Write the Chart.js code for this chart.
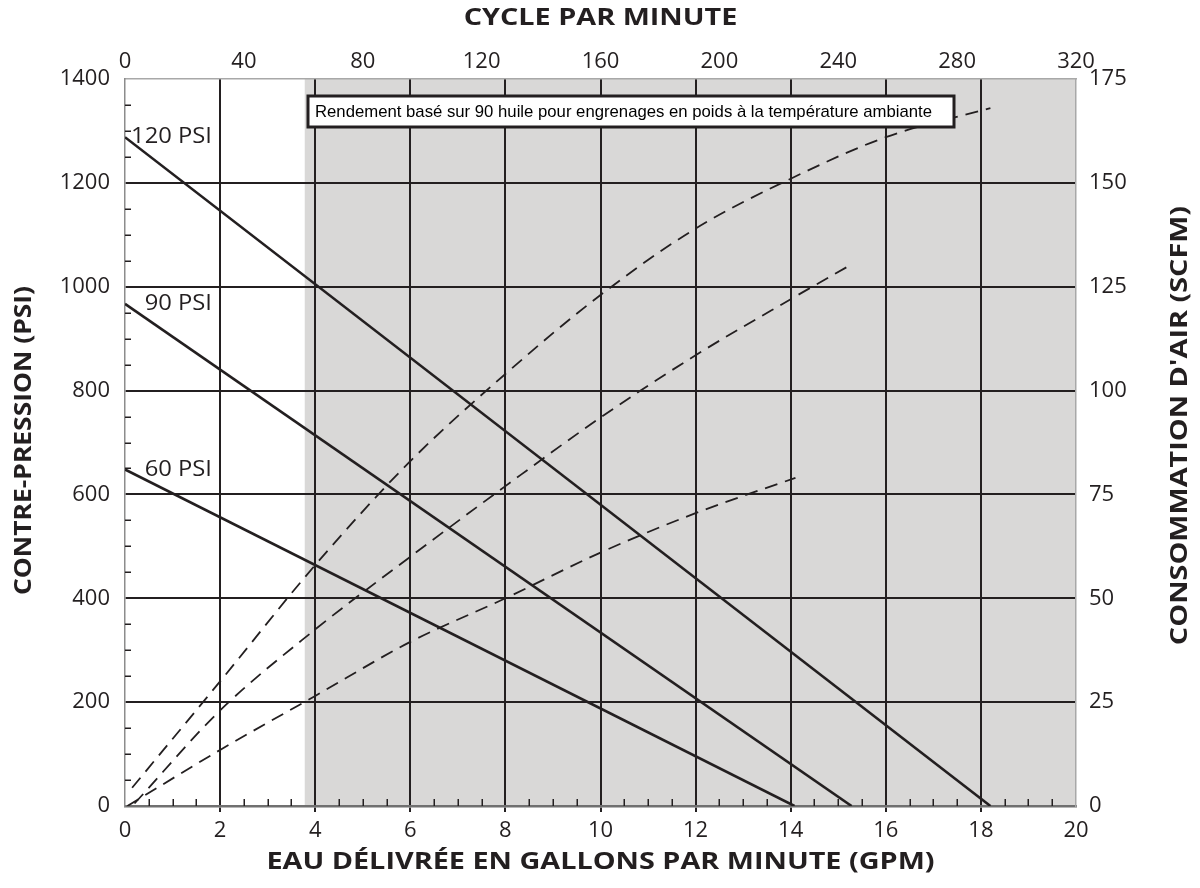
<!DOCTYPE html>
<html>
<head>
<meta charset="utf-8">
<script src="https://cdn.jsdelivr.net/npm/chart.js@4.4.0/dist/chart.umd.min.js"></script>
<style>
  html, body { margin: 0; padding: 0; background: #fff; }
  #wrap { width: 1200px; height: 888px; }
</style>
</head>
<body>
<div id="wrap"><canvas id="myChart" width="1200" height="888"></canvas></div>
<script>
// ---- data ----
const gpmTicks = [0, 2, 4, 6, 8, 10, 12, 14, 16, 18, 20];
const cycleTicks = [0, 40, 80, 120, 160, 200, 240, 280, 320];
const psiTicks = [0, 200, 400, 600, 800, 1000, 1200, 1400];
const scfmTicks = [0, 25, 50, 75, 100, 125, 150, 175];

// solid lines: back pressure (PSI) vs delivered water (GPM)
const pressureLabels = ['120 PSI', '90 PSI', '60 PSI'];
const pressureGpm = [[0, 18.2], [0, 15.28], [0, 14.08]];
const pressurePsi = [[1288, 0], [967, 0], [648, 0]];

// dashed lines: air consumption (SCFM) vs delivered water (GPM)
const air120Gpm = [0.15, 2, 4, 6, 8, 10, 12, 14, 16, 18.2];
const air120Scfm = [4.4, 30, 58, 83, 104, 123, 139, 151, 161, 168];
const air90Gpm = [0.2, 2, 4, 6, 8, 10, 12, 14, 15.3];
const air90Scfm = [0.6, 23, 42.5, 60, 77, 93.5, 108.5, 122, 130.5];
const air60Gpm = [0.05, 2, 4, 6, 8, 10, 12, 14.1];
const air60Scfm = [0, 13.5, 26.5, 39.5, 50, 61, 70.5, 79];

const shadeFromGpm = 3.78;
const gpmMinorStep = 0.5;
const psiMinorStep = 50;

const noteText = 'Rendement basé sur 90 huile pour engrenages en poids à la température ambiante';
const titleTop = 'CYCLE PAR MINUTE';
const titleBottom = 'EAU DÉLIVRÉE EN GALLONS PAR MINUTE (GPM)';
const titleLeft = 'CONTRE-PRESSION (PSI)';
const titleRight = "CONSOMMATION D'AIR (SCFM)";

// ---- styling ----
const INK = '#231f20';
const FONT = "'Open Sans', 'Noto Sans', sans-serif";
const tickFont = { family: FONT, size: 22 };
const TITLE_FONT = 'bold 24px ' + FONT;
const TITLE_STRETCH = 1.2;

const toPoints = (xs, ys) => xs.map((v, i) => ({ x: v, y: ys[i] }));
const edgeless = (lo, hi) => c => (c.tick && (c.tick.value === lo || c.tick.value === hi)) ? 'rgba(0,0,0,0)' : INK;
const plain = v => String(v);

const datasets = [];
pressureLabels.forEach((lab, i) => {
  datasets.push({
    label: lab,
    data: toPoints(pressureGpm[i], pressurePsi[i]),
    xAxisID: 'x', yAxisID: 'y',
    borderColor: INK, borderWidth: 2.6, tension: 0, pointRadius: 0
  });
});
[[air120Gpm, air120Scfm], [air90Gpm, air90Scfm], [air60Gpm, air60Scfm]].forEach(([g, s], i) => {
  datasets.push({
    label: 'air ' + pressureLabels[i],
    data: toPoints(g, s),
    xAxisID: 'x', yAxisID: 'y2',
    borderColor: INK, borderWidth: 1.8, borderDash: [13, 8],
    cubicInterpolationMode: 'monotone', pointRadius: 0
  });
});

function stretchedText(ctx, text, x, y, rot, sx, align) {
  ctx.save();
  ctx.translate(x, y);
  ctx.rotate(rot);
  ctx.scale(sx, 1);
  ctx.textAlign = align || 'center';
  ctx.textBaseline = 'middle';
  ctx.fillText(text, 0, 0);
  ctx.restore();
}

const decorations = {
  id: 'decorations',
  beforeDraw(chart) {
    const { ctx, chartArea: a, scales: { x } } = chart;
    const sx = x.getPixelForValue(shadeFromGpm);
    ctx.save();
    ctx.fillStyle = '#d9d8d7';
    ctx.fillRect(sx, a.top, a.right - sx, a.bottom - a.top);
    ctx.restore();
  },
  beforeDatasetsDraw(chart) {
    const { ctx, chartArea: a, scales: { x, y } } = chart;
    ctx.save();
    ctx.strokeStyle = INK;
    ctx.lineWidth = 1.5;
    ctx.beginPath();
    for (let v = gpmMinorStep; v < x.max; v += gpmMinorStep) {
      if (v % 2 === 0) continue;
      const px = Math.round(x.getPixelForValue(v)) + 0.25;
      ctx.moveTo(px, a.bottom);
      ctx.lineTo(px, a.bottom - 7);
    }
    for (let v = psiMinorStep; v < y.max; v += psiMinorStep) {
      if (v % 200 === 0) continue;
      const py = Math.round(y.getPixelForValue(v)) + 0.25;
      ctx.moveTo(a.left, py);
      ctx.lineTo(a.left + 6, py);
    }
    ctx.stroke();
    ctx.restore();
  },
  afterDatasetsDraw(chart) {
    const { ctx, chartArea: a, scales: { x, y } } = chart;
    ctx.save();
    // pressure labels at the start of each solid line
    ctx.fillStyle = INK;
    ctx.font = '22px ' + FONT;
    pressureLabels.forEach((lab, i) => {
      stretchedText(ctx, lab, x.getPixelForValue(0) + 87, y.getPixelForValue(pressurePsi[i][0]), 0, 1.08, 'right');
    });
    // note box
    const bx = a.left + 183, by = a.top + 17, bw = 646, bh = 31;
    ctx.fillStyle = '#fff';
    ctx.fillRect(bx, by, bw, bh);
    ctx.strokeStyle = INK;
    ctx.lineWidth = 3;
    ctx.strokeRect(bx, by, bw, bh);
    ctx.fillStyle = '#000';
    ctx.font = "17px 'Liberation Sans', Arial, sans-serif";
    ctx.textAlign = 'left';
    ctx.textBaseline = 'middle';
    ctx.fillText(noteText, bx + 7, by + bh / 2 + 1, 617);
    // axis titles
    ctx.fillStyle = INK;
    ctx.font = TITLE_FONT;
    const cx = (a.left + a.right) / 2, cy = (a.top + a.bottom) / 2;
    stretchedText(ctx, titleTop, cx, 18, 0, TITLE_STRETCH);
    stretchedText(ctx, titleBottom, cx, 862, 0, TITLE_STRETCH);
    stretchedText(ctx, titleLeft, 24, cy - 2, -Math.PI / 2, 1.1);
    stretchedText(ctx, titleRight, 1180, cy - 17, -Math.PI / 2, TITLE_STRETCH);
    ctx.restore();
  }
};

const fixedTicks = arr => scale => { scale.ticks = arr.map(v => ({ value: v })); };

new Chart(document.getElementById('myChart'), {
  type: 'line',
  data: { datasets },
  options: {
    responsive: false,
    animation: false,
    events: [],
    layout: { padding: 0 },
    plugins: { legend: { display: false }, tooltip: { enabled: false } },
    scales: {
      x: {
        type: 'linear', position: 'bottom', min: 0, max: 20,
        afterBuildTicks: fixedTicks(gpmTicks),
        afterFit: s => { s.height = 82; },
        ticks: { color: INK, font: tickFont, padding: 6, maxRotation: 0, autoSkip: false, callback: plain },
        grid: { color: edgeless(0, 20), tickColor: edgeless(0, 20), lineWidth: 2, tickLength: 6 },
        border: { display: true, color: '#707070', width: 2.5 }
      },
      x2: {
        type: 'linear', position: 'top', min: 0, max: 320,
        afterBuildTicks: fixedTicks(cycleTicks),
        afterFit: s => { s.height = 79; },
        ticks: { color: INK, font: tickFont, padding: 4, maxRotation: 0, autoSkip: false, callback: plain },
        grid: { display: false, drawTicks: false },
        border: { display: true, color: '#a8a8a8', width: 1.5 }
      },
      y: {
        type: 'linear', position: 'left', min: 0, max: 1400,
        afterBuildTicks: fixedTicks(psiTicks),
        afterFit: s => { s.width = 125; },
        ticks: { color: INK, font: tickFont, padding: 15, callback: plain },
        grid: { color: edgeless(0, 1400), lineWidth: 2, drawTicks: false },
        border: { display: true, color: '#8c8c8c', width: 1.5 }
      },
      y2: {
        type: 'linear', position: 'right', min: 0, max: 175,
        afterBuildTicks: fixedTicks(scfmTicks),
        afterFit: s => { s.width = 124; },
        ticks: { color: INK, font: tickFont, padding: 13, callback: plain },
        grid: { display: false, drawTicks: false },
        border: { display: true, color: '#a8a8a8', width: 1.5 }
      }
    }
  },
  plugins: [decorations]
});
</script>
</body>
</html>
